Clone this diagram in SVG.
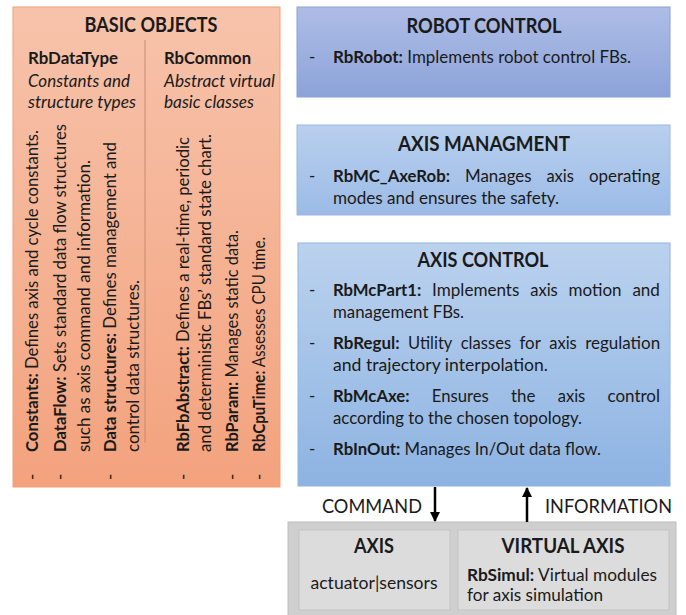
<svg xmlns="http://www.w3.org/2000/svg" width="686" height="615" viewBox="0 0 686 615">
<defs>
<linearGradient id="gOrange" x1="0" y1="0" x2="0" y2="1"><stop offset="0" stop-color="#F7C3AB"/><stop offset="1" stop-color="#F3A27D"/></linearGradient>
<linearGradient id="gRobot" x1="0" y1="0" x2="0" y2="1"><stop offset="0" stop-color="#AEBDE6"/><stop offset="1" stop-color="#8CA3D9"/></linearGradient>
<linearGradient id="gMan" x1="0" y1="0" x2="0" y2="1"><stop offset="0" stop-color="#B9D0EE"/><stop offset="1" stop-color="#9BBBE6"/></linearGradient>
<linearGradient id="gCtl" x1="0" y1="0" x2="0" y2="1"><stop offset="0" stop-color="#BBD2EE"/><stop offset="1" stop-color="#8DB3E2"/></linearGradient>
<marker id="ah" viewBox="0 0 10 10" refX="9" refY="5" markerWidth="4" markerHeight="4" orient="auto"><path d="M0,0 L10,5 L0,10 z" fill="#000"/></marker>
</defs>
<style>
text{font-family:Lato,"Liberation Sans",sans-serif;fill:#1a1a1a;}
.t{font-size:20px;font-weight:bold;text-anchor:middle;}
.b{font-size:17px;}
.bb{font-weight:bold;}
.i{font-style:italic;font-size:17px;}
.h{font-size:17px;font-weight:bold;}
.lbl{font-size:19px;}
</style>
<rect width="686" height="615" fill="#fff"/>

<g id="basic-objects">
<rect x="13" y="7" width="267" height="480" fill="url(#gOrange)" stroke="#EFA078" stroke-width="1"/>
<text class="t" x="151" y="32" textLength="133" lengthAdjust="spacingAndGlyphs">BASIC OBJECTS</text>
<line x1="145" y1="40" x2="145" y2="443" stroke="#C98A6E" stroke-width="1"/>
<text class="h" x="28" y="64" textLength="90" lengthAdjust="spacingAndGlyphs">RbDataType</text>
<text class="i" x="28" y="87" textLength="102" lengthAdjust="spacingAndGlyphs">Constants and</text>
<text class="i" x="28" y="108" textLength="108" lengthAdjust="spacingAndGlyphs">structure types</text>
<text class="h" x="164" y="64" textLength="87" lengthAdjust="spacingAndGlyphs">RbCommon</text>
<text class="i" x="164" y="87" textLength="111" lengthAdjust="spacingAndGlyphs">Abstract virtual</text>
<text class="i" x="164" y="108" textLength="90" lengthAdjust="spacingAndGlyphs">basic classes</text>

<text class="b" transform="translate(38,480) rotate(-90)">-</text>
<text class="b" transform="translate(38,452) rotate(-90)" textLength="322" lengthAdjust="spacingAndGlyphs"><tspan class="bb">Constants:</tspan> Defines axis and cycle constants.</text>
<text class="b" transform="translate(66,480) rotate(-90)">-</text>
<text class="b" transform="translate(66,452) rotate(-90)" textLength="328" lengthAdjust="spacingAndGlyphs"><tspan class="bb">DataFlow:</tspan> Sets standard data flow structures</text>
<text class="b" transform="translate(90,452) rotate(-90)" textLength="292" lengthAdjust="spacingAndGlyphs">such as axis command and information.</text>
<text class="b" transform="translate(116,480) rotate(-90)">-</text>
<text class="b" transform="translate(116,452) rotate(-90)" textLength="310" lengthAdjust="spacingAndGlyphs"><tspan class="bb">Data structures:</tspan> Defines management and</text>
<text class="b" transform="translate(139,452) rotate(-90)" textLength="172" lengthAdjust="spacingAndGlyphs">control data structures.</text>

<text class="b" transform="translate(189,480) rotate(-90)">-</text>
<text class="b" transform="translate(189,452) rotate(-90)" textLength="315" lengthAdjust="spacingAndGlyphs"><tspan class="bb">RbFbAbstract:</tspan> Defines a real-time, periodic</text>
<text class="b" transform="translate(211,452) rotate(-90)" textLength="318" lengthAdjust="spacingAndGlyphs">and deterministic FBs’ standard state chart.</text>
<text class="b" transform="translate(238,480) rotate(-90)">-</text>
<text class="b" transform="translate(238,452) rotate(-90)" textLength="222" lengthAdjust="spacingAndGlyphs"><tspan class="bb">RbParam:</tspan> Manages static data.</text>
<text class="b" transform="translate(265,480) rotate(-90)">-</text>
<text class="b" transform="translate(265,452) rotate(-90)" textLength="215" lengthAdjust="spacingAndGlyphs"><tspan class="bb">RbCpuTime:</tspan> Assesses CPU time.</text>
</g>

<g id="robot-control">
<rect x="297" y="7" width="373" height="90" fill="url(#gRobot)" stroke="#8AA2D6" stroke-width="1"/>
<text class="t" x="484" y="33" textLength="155" lengthAdjust="spacingAndGlyphs">ROBOT CONTROL</text>
<text class="b" x="309" y="63">-</text>
<text class="b" x="333" y="63" textLength="298" lengthAdjust="spacingAndGlyphs"><tspan class="bb">RbRobot:</tspan> Implements robot control FBs.</text>
</g>

<g id="axis-managment">
<rect x="297" y="125" width="373" height="90" fill="url(#gMan)" stroke="#98B8E2" stroke-width="1"/>
<text class="t" x="484" y="151" textLength="172" lengthAdjust="spacingAndGlyphs">AXIS MANAGMENT</text>
<text class="b" x="309" y="182">-</text>
<text class="h" x="333" y="182" textLength="117" lengthAdjust="spacingAndGlyphs">RbMC_AxeRob:</text>
<text class="b" x="465" y="182" textLength="66.6" lengthAdjust="spacingAndGlyphs">Manages</text>
<text class="b" x="546.4" y="182" textLength="27.6" lengthAdjust="spacingAndGlyphs">axis</text>
<text class="b" x="589" y="182" textLength="71" lengthAdjust="spacingAndGlyphs">operating</text>
<text class="b" x="333" y="204" textLength="226" lengthAdjust="spacingAndGlyphs">modes and ensures the safety.</text>
</g>

<g id="axis-control">
<rect x="298" y="243" width="372" height="243" fill="url(#gCtl)" stroke="#8FB3E0" stroke-width="1"/>
<text class="t" x="483" y="267" textLength="131" lengthAdjust="spacingAndGlyphs">AXIS CONTROL</text>
<text class="b" x="309" y="296">-</text>
<text class="h" x="333" y="296" textLength="88.3" lengthAdjust="spacingAndGlyphs">RbMcPart1:</text>
<text class="b" x="432.1" y="296" textLength="87.3" lengthAdjust="spacingAndGlyphs">Implements</text>
<text class="b" x="530.2" y="296" textLength="27.6" lengthAdjust="spacingAndGlyphs">axis</text>
<text class="b" x="568.6" y="296" textLength="53" lengthAdjust="spacingAndGlyphs">motion</text>
<text class="b" x="632.4" y="296" textLength="27.5" lengthAdjust="spacingAndGlyphs">and</text>
<text class="b" x="333" y="318" textLength="131" lengthAdjust="spacingAndGlyphs">management FBs.</text>
<text class="b" x="309" y="349">-</text>
<text class="h" x="333" y="349" textLength="66.6" lengthAdjust="spacingAndGlyphs">RbRegul:</text>
<text class="b" x="408" y="349" textLength="44.3" lengthAdjust="spacingAndGlyphs">Utility</text>
<text class="b" x="460.7" y="349" textLength="50.4" lengthAdjust="spacingAndGlyphs">classes</text>
<text class="b" x="519.5" y="349" textLength="21.3" lengthAdjust="spacingAndGlyphs">for</text>
<text class="b" x="549.2" y="349" textLength="27.6" lengthAdjust="spacingAndGlyphs">axis</text>
<text class="b" x="585.2" y="349" textLength="75" lengthAdjust="spacingAndGlyphs">regulation</text>
<text class="b" x="333" y="371" textLength="215" lengthAdjust="spacingAndGlyphs">and trajectory interpolation.</text>
<text class="b" x="309" y="402">-</text>
<text class="h" x="333" y="402" textLength="76.5" lengthAdjust="spacingAndGlyphs">RbMcAxe:</text>
<text class="b" x="431.8" y="402" textLength="57" lengthAdjust="spacingAndGlyphs">Ensures</text>
<text class="b" x="511" y="402" textLength="24.4" lengthAdjust="spacingAndGlyphs">the</text>
<text class="b" x="557.7" y="402" textLength="27.6" lengthAdjust="spacingAndGlyphs">axis</text>
<text class="b" x="607.5" y="402" textLength="52.5" lengthAdjust="spacingAndGlyphs">control</text>
<text class="b" x="333" y="424" textLength="249" lengthAdjust="spacingAndGlyphs">according to the chosen topology.</text>
<text class="b" x="309" y="455">-</text>
<text class="b" x="333" y="455" textLength="268" lengthAdjust="spacingAndGlyphs"><tspan class="bb">RbInOut:</tspan> Manages In/Out data flow.</text>
</g>

<g id="axis-layer">
<rect x="288" y="522" width="388" height="96" fill="#CFCFCF" stroke="#BDBDBD" stroke-width="1"/>
</g>
<g id="axis">
<rect x="299" y="530" width="151" height="80" fill="#DCDCDC" stroke="#C4C4C4" stroke-width="1"/>
<text class="t" x="374" y="553" textLength="40" lengthAdjust="spacingAndGlyphs">AXIS</text>
<text class="b" x="374" y="589" text-anchor="middle" textLength="127" lengthAdjust="spacingAndGlyphs">actuator|sensors</text>
</g>
<g id="virtual-axis">
<rect x="458" y="530" width="211" height="80" fill="#DCDCDC" stroke="#C4C4C4" stroke-width="1"/>
<text class="t" x="563" y="553" textLength="123" lengthAdjust="spacingAndGlyphs">VIRTUAL AXIS</text>
<text class="b" x="467" y="581" textLength="190" lengthAdjust="spacingAndGlyphs"><tspan class="bb">RbSimul:</tspan> Virtual modules</text>
<text class="b" x="467" y="601" textLength="136" lengthAdjust="spacingAndGlyphs">for axis simulation</text>
</g>

<g id="connectors">
<line x1="435" y1="487" x2="435" y2="521" stroke="#000" stroke-width="2.5" marker-end="url(#ah)"/>
<line x1="527" y1="522" x2="527" y2="488" stroke="#000" stroke-width="2.5" marker-end="url(#ah)"/>
<text class="lbl" x="322" y="513" textLength="100" lengthAdjust="spacingAndGlyphs">COMMAND</text>
<text class="lbl" x="545" y="513" textLength="127" lengthAdjust="spacingAndGlyphs">INFORMATION</text>
</g>
</svg>
